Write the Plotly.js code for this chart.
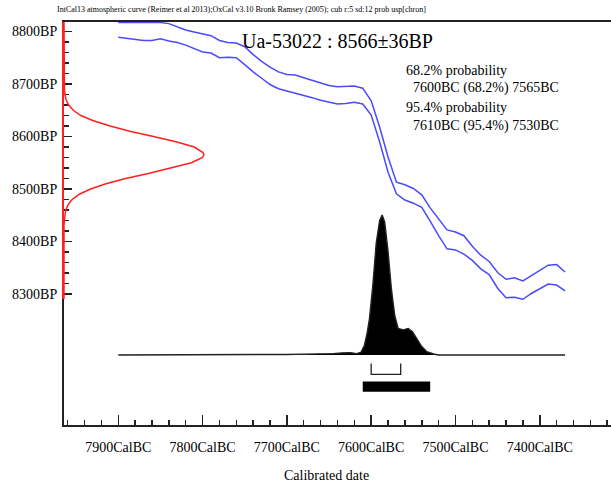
<!DOCTYPE html>
<html><head><meta charset="utf-8">
<script src="https://cdn.plot.ly/plotly-3.0.1.min.js"></script>
<style>html,body{margin:0;padding:0;background:#fff;overflow:hidden}#chart{width:611px;height:486px}</style>
</head><body><div id="chart"></div>
<script>
// ---------------- data ----------------
const headerText = 'IntCal13 atmospheric curve (Reimer et al 2013);OxCal v3.10 Bronk Ramsey (2005); cub r:5 sd:12 prob usp[chron]';
const labName = 'Ua-53022';
const bpMean = 8566;
const bpSigma = 36;
const range68 = [7600, 7565];
const range95 = [7610, 7530];

// calibration curve (+/- 1 sigma), cal BC vs BP
const calBC = [7900,7890,7880,7870,7860,7850,7840,7830,7820,7810,7800,7790,7780,7770,7760,7750,7740,7730,7720,7710,7700,7690,7680,7670,7660,7650,7640,7630,7620,7610,7600,7590,7580,7570,7560,7550,7540,7530,7520,7510,7500,7490,7480,7470,7460,7450,7440,7430,7420,7410,7400,7390,7380,7370];
const calUpperBP = [8817,8817,8817,8817,8817,8817,8815,8809,8803,8799,8796,8792,8783,8779,8778,8771,8756,8743,8732,8723,8718,8717,8712,8707,8701,8697,8695,8695,8696,8692,8668,8618,8561,8513,8508,8501,8489,8464,8443,8422,8418,8411,8391,8374,8362,8341,8328,8331,8325,8335,8345,8355,8356,8342];
const calLowerBP = [8789,8787,8785,8783,8783,8786,8782,8779,8774,8767,8761,8759,8750,8751,8750,8737,8723,8711,8699,8691,8687,8683,8678,8674,8669,8665,8662,8663,8665,8662,8641,8590,8532,8491,8479,8473,8465,8439,8411,8386,8384,8376,8364,8348,8337,8311,8293,8294,8290,8301,8310,8319,8317,8306];

// calibrated probability distribution (relative)
const distBC = [7900,7720,7700,7680,7660,7645,7635,7625,7617,7612,7608,7605,7602,7598,7594,7590,7587,7584,7580,7576,7572,7568,7562,7556,7551,7546,7540,7534,7526,7520,7370];
const distProb = [0,0,0.004,0.006,0.007,0.01,0.014,0.017,0.01,0.02,0.07,0.15,0.26,0.5,0.8,0.96,1.0,0.95,0.74,0.47,0.28,0.19,0.18,0.19,0.167,0.12,0.06,0.024,0.007,0,0];

// radiocarbon date distribution (relative) on the BP axis
const bpCurveBP = [8818,8710,8700,8690,8680,8670,8660,8650,8640,8630,8620,8610,8600,8590,8580,8570,8566,8560,8550,8540,8530,8520,8510,8500,8490,8480,8470,8460,8450,8440,8430,8290];
const bpCurveP = [0,0,0.001,0.003,0.007,0.015,0.033,0.066,0.12,0.21,0.33,0.47,0.64,0.80,0.93,0.99,1.0,0.99,0.91,0.77,0.61,0.44,0.30,0.19,0.11,0.058,0.029,0.013,0.006,0.002,0,0];

const xTicks = [7900,7800,7700,7600,7500,7400];
const xTickText = ['7900CalBC','7800CalBC','7700CalBC','7600CalBC','7500CalBC','7400CalBC'];
const yTicks = [8300,8400,8500,8600,8700,8800];
const yTickText = ['8300BP','8400BP','8500BP','8600BP','8700BP','8800BP'];
const yMinorTicks = [8320,8340,8360,8380,8420,8440,8460,8480,8520,8540,8560,8580,8620,8640,8660,8680,8720,8740,8760,8780];

// ---------------- layout geometry ----------------
const W = 611, H = 486, ML = 64, MR = 0, MT = 22, MB = 61;
const PW = W - ML - MR, PH = H - MT - MB;
const xRange = [7964.4, 7315.5];
const yRange = [8050.5, 8818.1];
const redBase = 8290;
const redPxPeak = 140;
const px2x = p => (p - ML) / PW;
const px2y = p => (H - MB - p) / PH;
const serif = 'Liberation Serif, Times New Roman, serif';
const ink = '#222';

const traces = [
  {x: calBC, y: calUpperBP, type: 'scatter', mode: 'lines', line: {color: '#4a4aff', width: 1.5}, xaxis: 'x', yaxis: 'y'},
  {x: calBC, y: calLowerBP, type: 'scatter', mode: 'lines', line: {color: '#4a4aff', width: 1.5}, xaxis: 'x', yaxis: 'y'},
  {x: distBC, y: distProb, type: 'scatter', mode: 'lines', fill: 'tozeroy', fillcolor: '#000', line: {color: ink, width: 1.4}, xaxis: 'x', yaxis: 'y2'},
  {x: [range68[0], range68[0], range68[1], range68[1]], y: [-0.06, -0.138, -0.138, -0.06], type: 'scatter', mode: 'lines', line: {color: ink, width: 1.3}, xaxis: 'x', yaxis: 'y2'},
  {x: bpCurveP, y: bpCurveBP, type: 'scatter', mode: 'lines', line: {color: '#ff2020', width: 1.5}, xaxis: 'x2', yaxis: 'y3'}
];

const y3Dom = (redBase - yRange[0]) / (yRange[1] - yRange[0]);

const ann = (text, px, py, size, anchor) => ({
  text: text, xref: 'paper', yref: 'paper', x: px2x(px), y: px2y(py),
  xanchor: anchor || 'left', yanchor: 'middle', showarrow: false, borderpad: 0,
  font: {family: serif, size: size, color: '#000'}
});

const layout = {
  width: W, height: H,
  margin: {l: ML, r: MR, t: MT, b: MB, pad: 0},
  paper_bgcolor: '#fff', plot_bgcolor: 'rgba(0,0,0,0)',
  font: {family: serif, color: '#000'},
  showlegend: false, hovermode: false,
  xaxis: {
    range: xRange, domain: [0, 1], anchor: 'y',
    showline: true, mirror: true, linecolor: ink, linewidth: 2,
    showgrid: false, zeroline: false,
    tickmode: 'array', tickvals: xTicks, ticktext: xTickText,
    ticks: 'inside', ticklen: 10, tickwidth: 1.5, tickcolor: ink,
    ticklabelstandoff: 8,
    minor: {tick0: 7900, dtick: 20, ticks: 'inside', ticklen: 5, tickwidth: 1.5, tickcolor: ink, showgrid: false},
    tickfont: {family: serif, size: 14, color: '#000'}
  },
  yaxis: {
    range: yRange, domain: [0, 1], anchor: 'x',
    showline: true, mirror: false, linecolor: ink, linewidth: 2,
    showgrid: false, zeroline: false,
    tickmode: 'array', tickvals: yTicks, ticktext: yTickText,
    ticks: 'inside', ticklen: 8, tickwidth: 1.5, tickcolor: ink,
    ticklabelstandoff: 2,
    minor: {tickmode: 'array', tickvals: yMinorTicks, ticks: 'inside', ticklen: 5, tickwidth: 1.5, tickcolor: ink, showgrid: false},
    tickfont: {family: serif, size: 14, color: '#000'}
  },
  yaxis2: {overlaying: 'y', range: [-0.5, -0.5 + PH / redPxPeak], visible: false, anchor: 'x'},
  xaxis2: {domain: [0, 1], range: [0, PW / redPxPeak], visible: false, anchor: 'y3'},
  yaxis3: {domain: [y3Dom, 1], range: [redBase, yRange[1]], anchor: 'x2',
    showline: true, linecolor: '#ff2020', linewidth: 2, ticks: '', showticklabels: false,
    showgrid: false, zeroline: false},
  shapes: [
    {type: 'rect', xref: 'x', yref: 'y2', x0: range95[0], x1: range95[1], y0: -0.19, y1: -0.262,
     fillcolor: '#000', line: {width: 0}}
  ],
  annotations: [
    ann(headerText, 56, 10, 8),
    ann(labName + ' : ' + bpMean + '\u00b1' + bpSigma + 'BP', 241, 41, 20),
    ann('68.2% probability', 405, 70, 14),
    ann(range68[0] + 'BC (68.2%) ' + range68[1] + 'BC', 412, 88.5, 14),
    ann('95.4% probability', 405, 107, 14),
    ann(range95[0] + 'BC (95.4%) ' + range95[1] + 'BC', 412, 126.5, 14),
    ann('Calibrated date', 326.5, 475, 14, 'center')
  ]
};

Plotly.newPlot('chart', traces, layout, {displayModeBar: false, staticPlot: true});
</script>
</body></html>
